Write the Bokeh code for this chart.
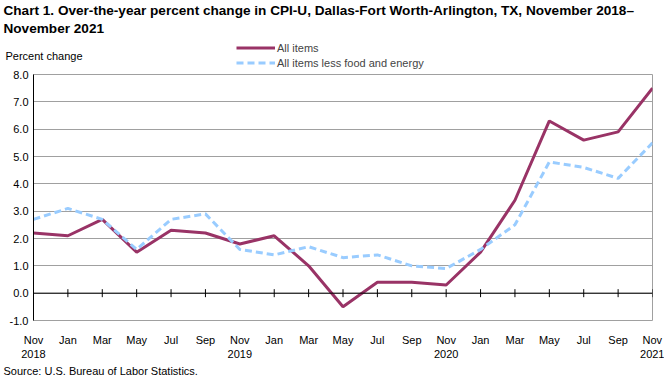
import math
from bokeh.plotting import figure
from bokeh.layouts import column
from bokeh.models import (Label, Legend, LegendItem, FixedTicker, Span, Range1d,
                          ColumnDataSource)
from bokeh.embed import file_html
from bokeh.resources import INLINE

months = ["Nov\n2018", "Jan", "Mar", "May", "Jul", "Sep", "Nov\n2019", "Jan", "Mar", "May",
          "Jul", "Sep", "Nov\n2020", "Jan", "Mar", "May", "Jul", "Sep", "Nov\n2021"]
all_items = [2.2, 2.1, 2.7, 1.5, 2.3, 2.2, 1.8, 2.1, 1.0, -0.5, 0.4, 0.4, 0.3, 1.5, 3.4, 6.3, 5.6, 5.9, 7.5]
core = [2.7, 3.1, 2.7, 1.6, 2.7, 2.9, 1.6, 1.4, 1.7, 1.3, 1.4, 1.0, 0.9, 1.6, 2.5, 4.8, 4.6, 4.2, 5.5]
y_ticks = [-1, 0, 1, 2, 3, 4, 5, 6, 7, 8]
series_names = ["All items", "All items less food and energy"]
series_colors = ["#993366", "#99CCFF"]

idx = list(range(len(months)))
src = ColumnDataSource(dict(x=idx, all_items=all_items, core=core, zero=[0] * len(idx)))

FONT = "Liberation Sans"
W = 664
HEAD_H = 70
FOOT_H = 15
MAIN_H = 377 - HEAD_H - FOOT_H


def blank(h):
    f = figure(width=W, height=h, output_backend="svg", toolbar_location=None,
               x_range=Range1d(0, W), y_range=Range1d(0, h),
               x_axis_type=None, y_axis_type=None,
               min_border=0, min_border_left=0, min_border_right=0,
               min_border_top=0, min_border_bottom=0)
    f.outline_line_color = None
    f.xgrid.grid_line_color = None
    f.ygrid.grid_line_color = None
    f.frame_align = False
    return f


# ---------- header ----------
head = blank(HEAD_H)
title1 = "Chart 1. Over-the-year percent change in CPI-U, Dallas-Fort Worth-Arlington, TX, November 2018\u2013"
title2 = "November 2021"
for t, top in [(title1, 2), (title2, 20)]:
    head.add_layout(Label(x=3, y=HEAD_H - top, x_units="screen", y_units="screen", text=t,
                          text_font=FONT, text_font_size="13.6px", text_font_style="bold",
                          text_baseline="top", text_color="black"))
head.add_layout(Label(x=5, y=HEAD_H - 55, x_units="screen", y_units="screen",
                      text="Percent change", text_font=FONT, text_font_size="11px",
                      text_baseline="middle", text_color="black"))
# off-screen sample lines that only serve as legend keys
h1 = head.line(x=[-50, -40], y=[-50, -50], line_color=series_colors[0], line_width=3)
h2 = head.line(x=[-50, -40], y=[-50, -50], line_color=series_colors[1], line_width=3,
               line_dash="7 4")
legend = Legend(items=[LegendItem(label=series_names[0], renderers=[h1]),
                       LegendItem(label=series_names[1], renderers=[h2])],
                location=(236, 0), padding=0, margin=0, spacing=0,
                glyph_width=39, glyph_height=15, label_height=15, label_standoff=2,
                label_text_font=FONT, label_text_font_size="11px",
                background_fill_alpha=0, border_line_color=None)
head.add_layout(legend, "center")

# ---------- main chart ----------
p = figure(width=W, height=MAIN_H, output_backend="svg", toolbar_location=None,
           x_range=Range1d(0, len(months) - 1), y_range=Range1d(-1, 8),
           min_border_left=33, min_border_right=12, min_border_top=74 - HEAD_H,
           min_border_bottom=(HEAD_H + MAIN_H) - 325)
p.frame_align = False
p.outline_line_color = "#A0A0A0"

p.yaxis.ticker = FixedTicker(ticks=y_ticks)
p.yaxis.major_label_overrides = {t: f"{t:.1f}" for t in y_ticks}
p.yaxis.axis_line_color = "black"
p.yaxis.major_tick_out = 0
p.yaxis.major_tick_in = 0
p.yaxis.minor_tick_line_color = None
p.yaxis.major_label_standoff = 5
p.yaxis.major_label_text_font = FONT
p.yaxis.major_label_text_font_size = "11px"
p.yaxis.major_label_text_color = "black"
p.ygrid.ticker = FixedTicker(ticks=y_ticks)
p.ygrid.grid_line_color = "#A0A0A0"

p.xaxis.ticker = FixedTicker(ticks=idx)
p.xaxis.major_label_overrides = {i: m for i, m in zip(idx, months)}
p.xaxis.axis_line_color = None
p.xaxis.major_tick_line_color = None
p.xaxis.minor_tick_line_color = None
p.xaxis.major_label_standoff = 7
p.xaxis.major_label_text_font = FONT
p.xaxis.major_label_text_font_size = "11px"
p.xaxis.major_label_text_color = "black"
p.xgrid.grid_line_color = None

p.add_layout(Span(location=0, dimension="width", line_color="black", line_width=1))
p.scatter("x", "zero", source=src, marker="dash", angle=math.pi / 2, size=8,
          line_color="black", line_width=1)

p.line("x", "all_items", source=src, line_color=series_colors[0], line_width=3)
p.line("x", "core", source=src, line_color=series_colors[1], line_width=3, line_dash="7 4")

# ---------- footer ----------
foot = blank(FOOT_H)
foot.add_layout(Label(x=3, y=1, x_units="screen", y_units="screen",
                      text="Source: U.S. Bureau of Labor Statistics.",
                      text_font=FONT, text_font_size="11px", text_baseline="bottom",
                      text_color="black"))

layout = column(head, p, foot, spacing=0)
open("out.html", "w").write(file_html(layout, INLINE))
